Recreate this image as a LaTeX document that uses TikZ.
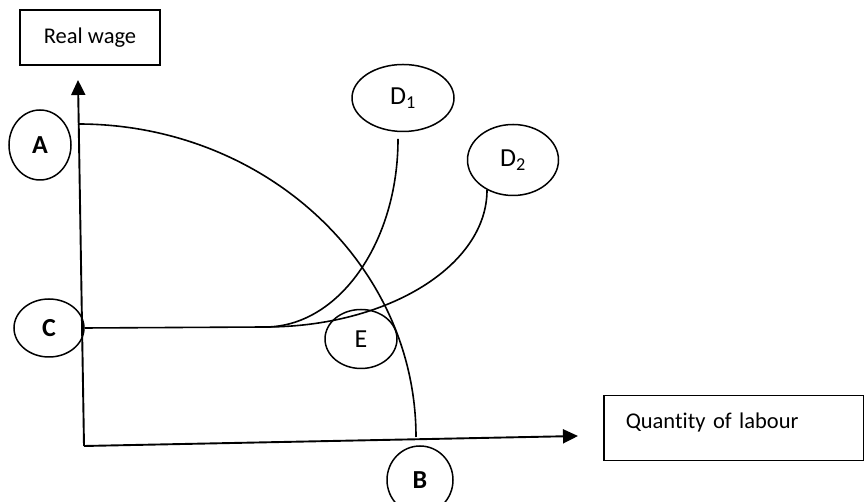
\documentclass[tikz,border=0pt]{standalone}
\usepackage{fontspec}
\setmainfont{Carlito}[Ligatures=NoCommon]
\usetikzlibrary{positioning,arrows.meta,shapes.geometric}

\begin{document}
\begin{tikzpicture}[x=1pt, y=1pt,
  axislabel/.style={draw, line width=1.5pt, font=\fontsize{22.5}{27}\selectfont},
  pt/.style={draw, ellipse, line width=1.5pt, inner sep=0pt,
    font=\fontsize{26}{30}\selectfont},
  curve/.style={line width=1.6pt},
  axis/.style={line width=1.9pt, -{Triangle[length=15pt, width=14pt]}}
]
\useasboundingbox (0,0) rectangle (864,502);

% Axis titles
\node[axislabel, minimum width=140pt, minimum height=55pt]
  (wage) at (90,464.5) {Real wage};
\node[axislabel, anchor=north west, inner xsep=22pt, inner ysep=0pt,
  text width=216pt, text height=33pt, text depth=32pt, align=left]
  (labour) at (603,107) {Quantity of labour};

% Point labels
\node[pt, minimum width=62pt, minimum height=70pt] (A) at (40,357) {\textbf{A}};
\node[pt, minimum width=70pt, minimum height=58pt] (C) at (49,174) {\textbf{C}};
\node[pt, minimum width=66pt, minimum height=68pt] (B) at (420,22) {\textbf{B}};
\node[pt, minimum width=72pt, minimum height=59pt] (E) at (361,163) {E};
\node[pt, minimum width=102pt, minimum height=67pt] (D1) at (403,404) {D\textsubscript{1}};
\node[pt, minimum width=91pt, minimum height=71pt] (D2) at (513,342) {D\textsubscript{2}};

% Axes
\coordinate (O) at (84,56);
\coordinate (ytop) at (78,422);
\coordinate (xend) at (578,66);
\draw[axis] (O) -- (ytop);
\draw[axis] (O) -- (xend);

% Curves
\coordinate (Atop) at (78,378);
\coordinate (kink) at (265,175);
\draw[curve] (Atop) arc[start angle=90, end angle=0, x radius=338, y radius=313];
\draw[curve] (C.east) -- (kink);
\draw[curve] (kink) arc[start angle=-90, end angle=0, x radius=133, y radius=188];
\draw[curve] (kink) arc[start angle=-90, end angle=0, x radius=222, y radius=137];
\end{tikzpicture}
\end{document}
